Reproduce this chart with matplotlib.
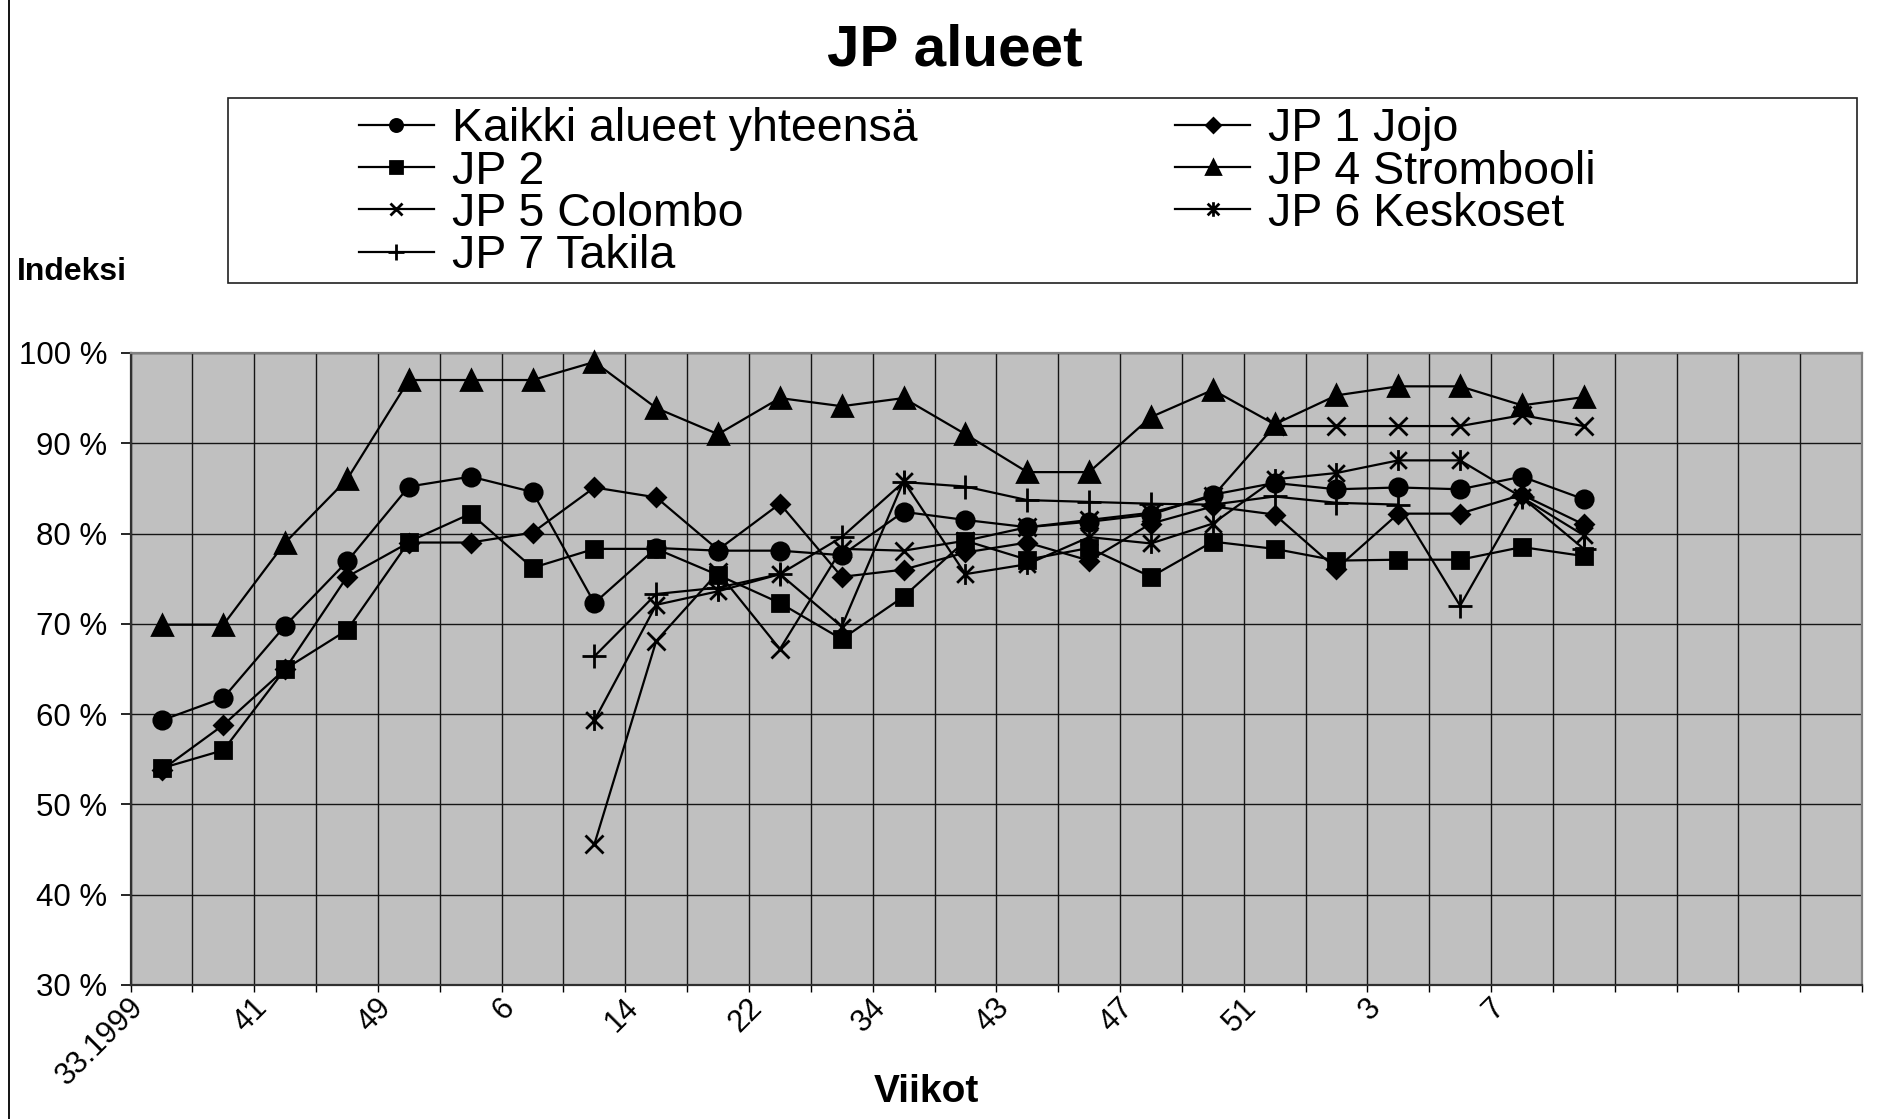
import numpy as np
import matplotlib
matplotlib.use("Agg")
import matplotlib.pyplot as plt
import matplotlib.transforms as mtransforms
from matplotlib.path import Path
from matplotlib.patches import Rectangle

plt.rcParams['font.family'] = ['Liberation Sans', 'DejaVu Sans']

# Categories (weeks) - only every second one has a visible label
weeks = ['33.1999', '', '41', '', '49', '', '6', '', '14', '', '22', '', '34', '',
         '43', '', '47', '', '51', '', '3', '', '7', '', '', '', '', '']

nan = np.nan
kaikki = [59.3, 61.8, 69.8, 76.9, 85.2, 86.3, 84.6, 72.3, 78.4, 78.1, 78.1, 77.6,
          82.4, 81.5, 80.7, 81.3, 82.1, 84.3, 85.6, 84.9, 85.1, 84.9, 86.3, 83.8]
jp1 = [53.8, 58.8, 65.0, 75.2, 79.0, 79.0, 80.1, 85.1, 84.0, 78.2, 83.3, 75.2,
       76.0, 77.9, 79.0, 77.0, 81.1, 83.0, 82.1, 76.1, 82.2, 82.2, 84.3, 81.0]
jp2 = [54.0, 56.0, 65.0, 69.3, 79.1, 82.2, 76.2, 78.3, 78.3, 75.4, 72.3, 68.3,
       73.0, 79.2, 77.1, 78.4, 75.2, 79.1, 78.3, 77.0, 77.1, 77.1, 78.5, 77.5]
jp4 = [69.9, 69.9, 79.0, 86.0, 97.0, 97.0, 97.0, 99.0, 93.9, 91.0, 95.0, 94.1,
       95.0, 91.0, 86.8, 86.8, 92.9, 95.9, 92.1, 95.3, 96.3, 96.3, 94.2, 95.1]
jp5 = [nan] * 7 + [45.6, 68.1, 75.7, 67.2, 78.3, 78.1, 79.2, 80.7, 81.5, 82.3,
                   84.1, 91.9, 91.9, 91.9, 91.9, 93.1, 91.9]
jp6 = [nan] * 7 + [59.3, 72.1, 73.6, 75.5, 69.7, 85.8, 75.5, 76.6, 79.6, 78.9,
                   81.1, 86.0, 86.7, 88.1, 88.1, 84.0, 79.8]
jp7 = [nan] * 7 + [66.4, 73.3, 74.0, 75.5, 79.6, 85.7, 85.2, 83.7, 83.5, 83.3,
                   83.2, 84.1, 83.4, 83.2, 72.0, 84.0, 78.3]

# asterisk marker like in Excel: an x with a vertical bar
asterisk = Path([(0, -1), (0, 1), (-0.8, -0.8), (0.8, 0.8), (-0.8, 0.8), (0.8, -0.8)],
                [Path.MOVETO, Path.LINETO] * 3)

series = [
    ('Kaikki alueet yhteensä', kaikki, 'o', 12.5),
    ('JP 1 Jojo', jp1, 'D', 9.5),
    ('JP 2', jp2, 's', 12),
    ('JP 4 Strombooli', jp4, '^', 14),
    ('JP 5 Colombo', jp5, 'x', 13),
    ('JP 6 Keskoset', jp6, asterisk, 15),
    ('JP 7 Takila', jp7, '+', 17),
]

fig = plt.figure(figsize=(18.96, 11.19), dpi=100)
ax = fig.add_axes([0.0689, 0.1198, 0.9132, 0.5648])
ax.set_facecolor('#c0c0c0')

n_cat = len(weeks)
x = np.arange(len(kaikki)) + 0.5

handles = {}
for name, vals, mk, ms in series:
    ln, = ax.plot(x, vals, color='black', lw=1.6, marker=mk, markersize=ms,
                  markerfacecolor='black', markeredgecolor='black',
                  markeredgewidth=2.0, label=name, clip_on=False, zorder=3)
    handles[name] = ln

ax.set_xlim(0, n_cat)
ax.set_ylim(30, 100)

# horizontal grid every 10 %
ax.set_yticks(np.arange(30, 101, 10))
ax.set_yticklabels(['%d %%' % v for v in range(30, 101, 10)])
ax.tick_params(axis='y', direction='out', length=7, width=1.2, pad=10,
               labelsize=22.5, colors='black')

# category boundaries: minor ticks + vertical grid; labels at centres
ax.set_xticks(np.arange(0, n_cat + 1), minor=True)
ax.set_xticks(np.arange(n_cat) + 0.5)
ax.set_xticklabels(weeks, rotation=45, ha='right', va='center',
                   rotation_mode='anchor')
ax.tick_params(axis='x', which='major', length=0, pad=13, labelsize=22)
ax.tick_params(axis='x', which='minor', direction='out', length=5, width=1)
offset = mtransforms.ScaledTranslation(-16 / 72, 0, fig.dpi_scale_trans)
for lab in ax.get_xticklabels():
    lab.set_transform(lab.get_transform() + offset)

ax.grid(axis='y', which='major', color='#151515', lw=1.0, zorder=1)
ax.grid(axis='x', which='minor', color='#151515', lw=1.0, zorder=1)
ax.set_axisbelow(True)

for s in ['top', 'right']:
    ax.spines[s].set_color('#808080')
    ax.spines[s].set_linewidth(1.6)
for s in ['left', 'bottom']:
    ax.spines[s].set_color('#303030')
    ax.spines[s].set_linewidth(1.6)

# texts
fig.text(0.5037, 0.955, 'JP alueet', ha='center', va='center',
         fontsize=42, fontweight='bold')
fig.text(0.009, 0.757, 'Indeksi', ha='left', va='center',
         fontsize=23, fontweight='bold')
fig.text(0.4884, 0.0241, 'Viikot', ha='center', va='center',
         fontsize=28, fontweight='bold')

# legend frame + legend (excel orders row-wise)
fig.patches.append(Rectangle((0.1203, 0.7471), 0.9794 - 0.1203, 0.9124 - 0.7471,
                             transform=fig.transFigure, fill=False,
                             ec='#202020', lw=1.2))
order = ['Kaikki alueet yhteensä', 'JP 2', 'JP 5 Colombo', 'JP 7 Takila',
         'JP 1 Jojo', 'JP 4 Strombooli', 'JP 6 Keskoset']
fig.legend([handles[k] for k in order], order, ncol=2, frameon=False,
           loc='upper left', bbox_to_anchor=(0.1894, 0.904),
           bbox_transform=fig.transFigure, fontsize=33.5, markerscale=0.7,
           handlelength=1.6, handletextpad=0.4, columnspacing=5.54,
           labelspacing=-0.04, borderpad=0, borderaxespad=0)

# chart area border (left edge visible)
fig.patches.append(Rectangle((0.0048, -0.05), 1.2, 1.2, transform=fig.transFigure,
                             fill=False, ec='black', lw=1.3))

fig.savefig('out.png', dpi=100)
